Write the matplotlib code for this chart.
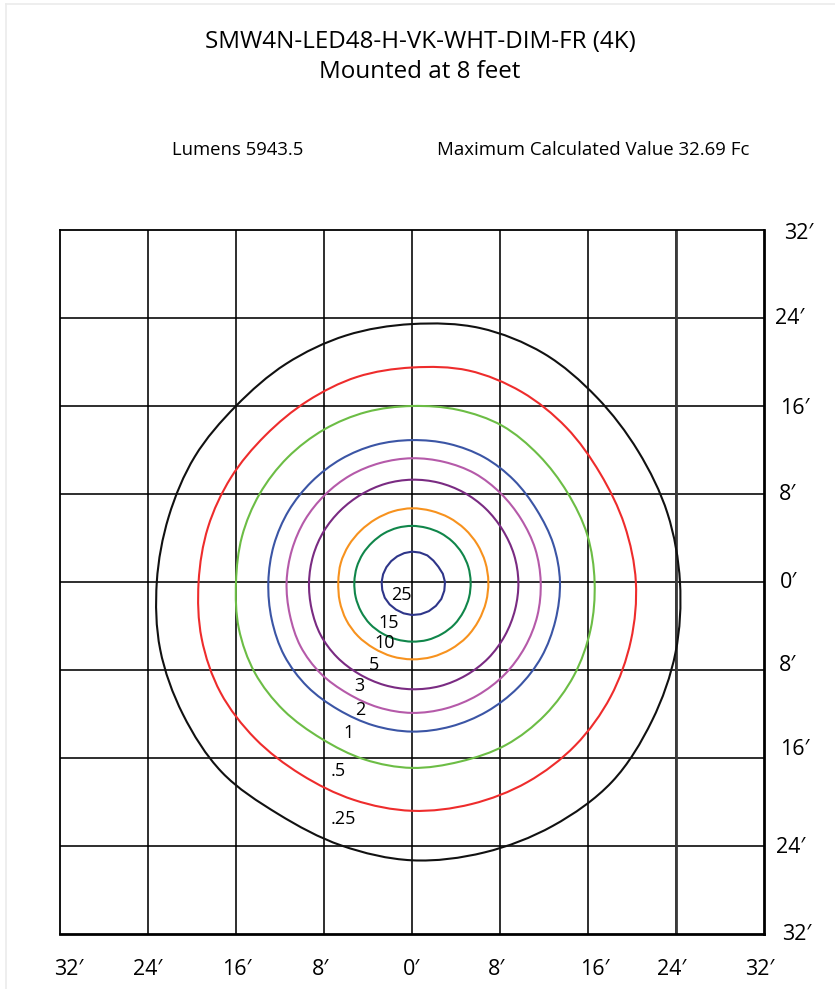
import numpy as np
import matplotlib
matplotlib.use("Agg")
import matplotlib.pyplot as plt
from matplotlib.lines import Line2D
from matplotlib.path import Path
from matplotlib.patches import PathPatch

plt.rcParams['font.family'] = ['Open Sans', 'DejaVu Sans']

title_line1 = "SMW4N-LED48-H-VK-WHT-DIM-FR (4K)"
title_line2 = "Mounted at 8 feet"
lumens_text = "Lumens 5943.5"
max_text = "Maximum Calculated Value 32.69 Fc"

# Grid / tick positions (feet) and labels
grid_ft = [-32, -24, -16, -8, 0, 8, 16, 24, 32]
x_tick_labels = ["32\u2032", "24\u2032", "16\u2032", "8\u2032", "0\u2032", "8\u2032", "16\u2032", "24\u2032", "32\u2032"]
y_tick_labels = ["32\u2032", "24\u2032", "16\u2032", "8\u2032", "0\u2032", "8\u2032", "16\u2032", "24\u2032", "32\u2032"]

# Contour radii (feet) read at directions 0,15,...,345 degrees
angles_deg = [0, 15, 30, 45, 60, 75, 90, 105, 120, 135, 150, 165,
              180, 195, 210, 225, 240, 255, 270, 285, 300, 315, 330, 345]

r_025 = [24.36, 24.05, 23.75, 23.75, 23.98, 23.9, 23.45, 23.2, 22.9, 22.63, 22.8, 22.9,
         23.2, 23.7, 24.05, 24.45, 24.35, 24.8, 25.3, 25.45, 25.6, 25.7, 25.2, 24.8]
r_05 = [20.35, 20.0, 19.75, 19.85, 19.95, 19.9, 19.5, 19.3, 19.0, 18.85, 19.0, 19.2,
        19.4, 19.8, 20.1, 20.15, 20.2, 20.5, 20.8, 20.9, 21.0, 21.0, 20.85, 20.6]
r_1 = [16.6, 16.5, 16.3, 16.3, 16.4, 16.2, 16.0, 16.0, 16.0, 16.0, 16.0, 16.0,
       16.0, 16.3, 16.5, 16.5, 16.45, 16.7, 16.9, 16.9, 17.1, 17.1, 17.0, 16.8]
r_2 = [13.45, 13.3, 13.1, 13.1, 13.1, 13.0, 12.9, 12.9, 12.9, 12.9, 12.95, 13.0,
       13.06, 13.2, 13.4, 13.45, 13.4, 13.5, 13.6, 13.6, 13.6, 13.6, 13.6, 13.5]
r_3 = [11.7, 11.6, 11.45, 11.4, 11.4, 11.3, 11.25, 11.2, 11.2, 11.2, 11.25, 11.3,
       11.4, 11.5, 11.7, 11.75, 11.7, 11.8, 11.9, 11.9, 11.9, 11.9, 11.85, 11.8]
r_5 = [9.67, 9.6, 9.5, 9.45, 9.4, 9.35, 9.3, 9.25, 9.2, 9.2, 9.25, 9.3,
       9.36, 9.45, 9.6, 9.65, 9.65, 9.7, 9.75, 9.8, 9.8, 9.8, 9.75, 9.7]
r_10 = [6.94, 6.9, 6.85, 6.8, 6.75, 6.7, 6.7, 6.65, 6.6, 6.6, 6.65, 6.7,
        6.7, 6.8, 6.9, 6.95, 6.95, 7.0, 7.03, 7.05, 7.05, 7.05, 7.0, 6.97]
r_15 = [5.33, 5.3, 5.25, 5.2, 5.15, 5.1, 5.1, 5.1, 5.1, 5.1, 5.15, 5.2,
        5.24, 5.3, 5.35, 5.4, 5.4, 5.4, 5.42, 5.45, 5.45, 5.45, 5.4, 5.37]
r_25 = [3.0, 2.9, 2.77, 2.75, 2.79, 2.77, 2.76, 2.72, 2.69, 2.68, 2.69, 2.72,
        2.76, 2.8, 2.86, 2.88, 2.9, 2.95, 3.0, 3.03, 3.06, 3.07, 3.08, 3.04]

contour_labels = [".25", ".5", "1", "2", "3", "5", "10", "15", "25"]
contour_radii = [r_025, r_05, r_1, r_2, r_3, r_5, r_10, r_15, r_25]
contour_colors = ["#111111", "#ee2c2c", "#6cbd45", "#3b55a5", "#b55aa9",
                  "#7a2b82", "#f7921e", "#10864a", "#2e3589"]
label_x = [-6.2, -6.75, -5.8, -4.75, -4.75, -3.45, -2.45, -2.15, -0.95]
label_y = [-21.5, -17.2, -13.75, -11.6, -9.45, -7.5, -5.55, -3.7, -1.15]

W, H = 835, 989
fig = plt.figure(figsize=(W / 100, H / 100), dpi=100)
fig.patch.set_facecolor("white")

# faint outer frame
fig.add_artist(Line2D([6 / W, 6 / W], [0, 1 - 4 / H], transform=fig.transFigure, color="#ebebeb", lw=1.2))
fig.add_artist(Line2D([6 / W, 1], [1 - 4 / H, 1 - 4 / H], transform=fig.transFigure, color="#ebebeb", lw=1.2))

ax = fig.add_axes([60 / W, 1 - 934 / H, 704 / W, 704 / H])
ax.set_xlim(-32, 32)
ax.set_ylim(-32, 32)
ax.set_facecolor("white")

for g in grid_ft[1:-1]:
    ax.axvline(g, color="black", lw=1.15, zorder=1)
    ax.axhline(g, color="black", lw=1.15, zorder=1)
ax.axvline(24, color="#3a3a3a", lw=2.0, zorder=1)

for name, s in ax.spines.items():
    s.set_color("black")
    s.set_linewidth(2.0 if name in ("right", "bottom") else 1.3)


def closed_smooth_path(px, py):
    """Closed cubic Bezier path (Catmull-Rom) passing through the given points."""
    pts = np.column_stack([px, py])
    n = len(pts)
    verts = [pts[0]]
    codes = [Path.MOVETO]
    for i in range(n):
        p0 = pts[(i - 1) % n]
        p1 = pts[i]
        p2 = pts[(i + 1) % n]
        p3 = pts[(i + 2) % n]
        verts += [p1 + (p2 - p0) / 6.0, p2 - (p3 - p1) / 6.0, p2]
        codes += [Path.CURVE4] * 3
    return Path(np.array(verts), codes)


ang = np.deg2rad(np.array(angles_deg))
for k, (radii, col) in enumerate(zip(contour_radii, contour_colors)):
    r = np.array(radii)
    xs, ys = r * np.cos(ang), r * np.sin(ang)
    if contour_labels[k] == "25":
        ax.plot(np.append(xs, xs[0]), np.append(ys, ys[0]), color=col, lw=1.5, zorder=3)
    else:
        ax.add_patch(PathPatch(closed_smooth_path(xs, ys), facecolor="none",
                               edgecolor=col, lw=1.5, zorder=3))

for lab, lx, ly in zip(contour_labels, label_x, label_y):
    ax.text(lx, ly, lab, fontsize=13, ha="center", va="center", color="black", zorder=4)

ax.set_xticks([])
ax.set_yticks([])

# bottom labels
bx_off = [0.8, 0.0, 0.1, -0.3, 0.0, -0.3, 0.6, -0.4, -0.4]
for g, lab, o in zip(grid_ft, x_tick_labels, bx_off):
    ax.text(g + o, -35.2, lab, fontsize=15.5, ha="center", va="center", clip_on=False)

# right labels
ry_pos = [31.7, 24, 15.8, 8, 0, -7.6, -15.2, -24.1, -32]
rx_pos = [35.2, 34.3, 34.8, 34.1, 34.2, 34.1, 34.8, 34.4, 35.0]
for g, lab, yy, xx in zip(grid_ft[::-1], y_tick_labels, ry_pos, rx_pos):
    ax.text(xx, yy, lab, fontsize=15.5, ha="center", va="center", clip_on=False)

fig.text(420 / W, 1 - 42 / H, title_line1, fontsize=17.4, ha="center", va="center")
fig.text(420 / W, 1 - 72 / H, title_line2, fontsize=17.4, ha="center", va="center")
fig.text(238 / W, 1 - 150 / H, lumens_text, fontsize=13.3, ha="center", va="center")
fig.text(593 / W, 1 - 150 / H, max_text, fontsize=13.4, ha="center", va="center")

fig.savefig("out.png", dpi=100)
